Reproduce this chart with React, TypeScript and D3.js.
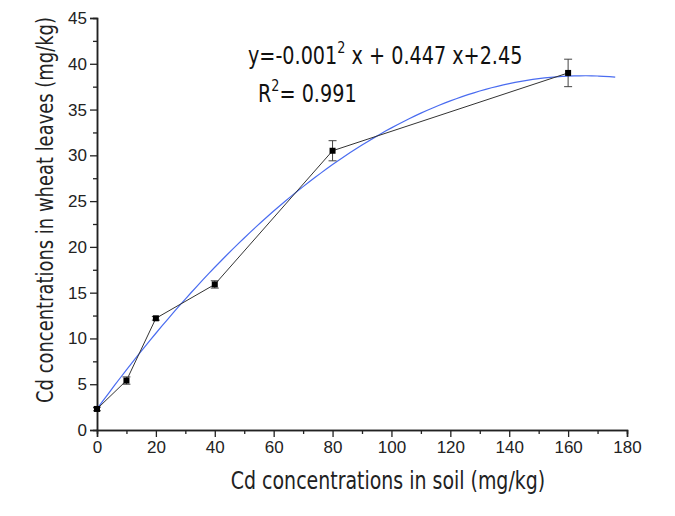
import React, { useEffect, useRef } from "react";
import * as d3 from "d3";

const MARGIN = { TOP: 18, BOTTOM: 86, LEFT: 97, RIGHT: 48 };
const W = 675;
const H = 516;
const WIDTH = W - MARGIN.LEFT - MARGIN.RIGHT;
const HEIGHT = H - MARGIN.TOP - MARGIN.BOTTOM;

// measured points
const soilCd = [0, 10, 20, 40, 80, 160];
const leafCd = [2.3, 5.4, 12.2, 15.9, 30.5, 39.0];
const leafErr = [0.2, 0.4, 0.2, 0.4, 1.1, 1.5];

// quadratic fit coefficients (a, b, c)
const fitCoef = [-0.00133, 0.44, 2.3];
const fitXs = d3.range(0, 177, 2);

const xTicks = [0, 20, 40, 60, 80, 100, 120, 140, 160, 180];
const yTicks = [0, 5, 10, 15, 20, 25, 30, 35, 40, 45];

const TITLE_FONT = "'DejaVu Sans', sans-serif";
const TICK_FONT = "'Liberation Sans', Arial, sans-serif";

export default function App() {
  const ref = useRef<SVGSVGElement>(null);

  useEffect(() => {
    const svg = d3.select(ref.current);
    svg.selectAll("*").remove();

    const x = d3.scaleLinear().domain([0, 180]).range([0, WIDTH]);
    const y = d3.scaleLinear().domain([0, 45]).range([HEIGHT, 0]);

    const g = svg.append("g").attr("transform", `translate(${MARGIN.LEFT},${MARGIN.TOP})`);

    // minor ticks
    const xMinor = d3.axisBottom(x).tickValues(d3.range(10, 180, 20)).tickSize(4).tickFormat(() => "");
    g.append("g").attr("transform", `translate(0,${HEIGHT})`).call(xMinor);
    const yMinor = d3.axisLeft(y).tickValues(d3.range(2.5, 45, 5)).tickSize(4).tickFormat(() => "");
    g.append("g").call(yMinor);

    const xAxis = d3.axisBottom(x).tickValues(xTicks).tickSize(7).tickPadding(4);
    g.append("g").attr("transform", `translate(0,${HEIGHT})`).call(xAxis);
    const yAxis = d3.axisLeft(y).tickValues(yTicks).tickSize(7).tickPadding(3);
    g.append("g").call(yAxis);

    g.selectAll(".domain").attr("stroke", "#222").attr("stroke-width", 1.5);
    g.selectAll(".tick line").attr("stroke", "#222").attr("stroke-width", 1.3);
    g.selectAll(".tick text")
      .attr("font-family", TICK_FONT)
      .attr("font-size", 17)
      .attr("fill", "#222");

    // fitted curve
    const fit = (v: number) => fitCoef[0] * v * v + fitCoef[1] * v + fitCoef[2];
    g.append("path")
      .datum(fitXs)
      .attr("fill", "none")
      .attr("stroke", "#4a6cf0")
      .attr("stroke-width", 1.2)
      .attr("d", d3.line<number>().x((d) => x(d)).y((d) => y(fit(d))).curve(d3.curveMonotoneX));

    // data line
    const pts = soilCd.map((v, i) => ({ x: v, y: leafCd[i], e: leafErr[i] }));
    g.append("path")
      .datum(pts)
      .attr("fill", "none")
      .attr("stroke", "#333")
      .attr("stroke-width", 1)
      .attr("d", d3.line<any>().x((d) => x(d.x)).y((d) => y(d.y)));

    // error bars
    const eb = g.selectAll(".eb").data(pts).enter().append("g").attr("stroke", "#444").attr("stroke-width", 1);
    eb.append("line")
      .attr("x1", (d) => x(d.x)).attr("x2", (d) => x(d.x))
      .attr("y1", (d) => y(d.y - d.e)).attr("y2", (d) => y(d.y + d.e));
    eb.append("line")
      .attr("x1", (d) => x(d.x) - 4).attr("x2", (d) => x(d.x) + 4)
      .attr("y1", (d) => y(d.y + d.e)).attr("y2", (d) => y(d.y + d.e));
    eb.append("line")
      .attr("x1", (d) => x(d.x) - 4).attr("x2", (d) => x(d.x) + 4)
      .attr("y1", (d) => y(d.y - d.e)).attr("y2", (d) => y(d.y - d.e));

    g.selectAll(".pt").data(pts).enter().append("rect")
      .attr("x", (d) => x(d.x) - 3).attr("y", (d) => y(d.y) - 3)
      .attr("width", 6).attr("height", 6).attr("fill", "#000");

    // axis titles (condensed look by horizontal squeeze)
    svg.append("text")
      .attr("transform", `translate(388,489) scale(0.79,1)`)
      .attr("text-anchor", "middle")
      .attr("font-family", TITLE_FONT)
      .attr("font-size", 24)
      .attr("fill", "#222")
      .text("Cd  concentrations in soil (mg/kg)");

    svg.append("text")
      .attr("transform", `translate(53,${MARGIN.TOP + 192}) rotate(-90) scale(0.78,1)`)
      .attr("text-anchor", "middle")
      .attr("font-family", TITLE_FONT)
      .attr("font-size", 23)
      .attr("fill", "#222")
      .text("Cd concentrations in wheat leaves (mg/kg)");

    // equation
    const eq = svg.append("text")
      .attr("transform", "translate(248,64) scale(0.8,1)")
      .attr("font-family", TITLE_FONT).attr("font-size", 24).attr("fill", "#111");
    eq.append("tspan").text("y=-0.001");
    eq.append("tspan").attr("dy", -11).attr("font-size", 16).text("2");
    eq.append("tspan").attr("dy", 11).text(" x + 0.447 x+2.45");

    const r2 = svg.append("text")
      .attr("transform", "translate(258,102) scale(0.8,1)")
      .attr("font-family", TITLE_FONT).attr("font-size", 24).attr("fill", "#111");
    r2.append("tspan").text("R");
    r2.append("tspan").attr("dy", -11).attr("font-size", 16).text("2");
    r2.append("tspan").attr("dy", 11).text("= 0.991");
  }, []);

  return (
    <svg
      ref={ref}
      width={W}
      height={H}
      style={{ position: "absolute", left: 0, top: 0, background: "#fff" }}
    />
  );
}
